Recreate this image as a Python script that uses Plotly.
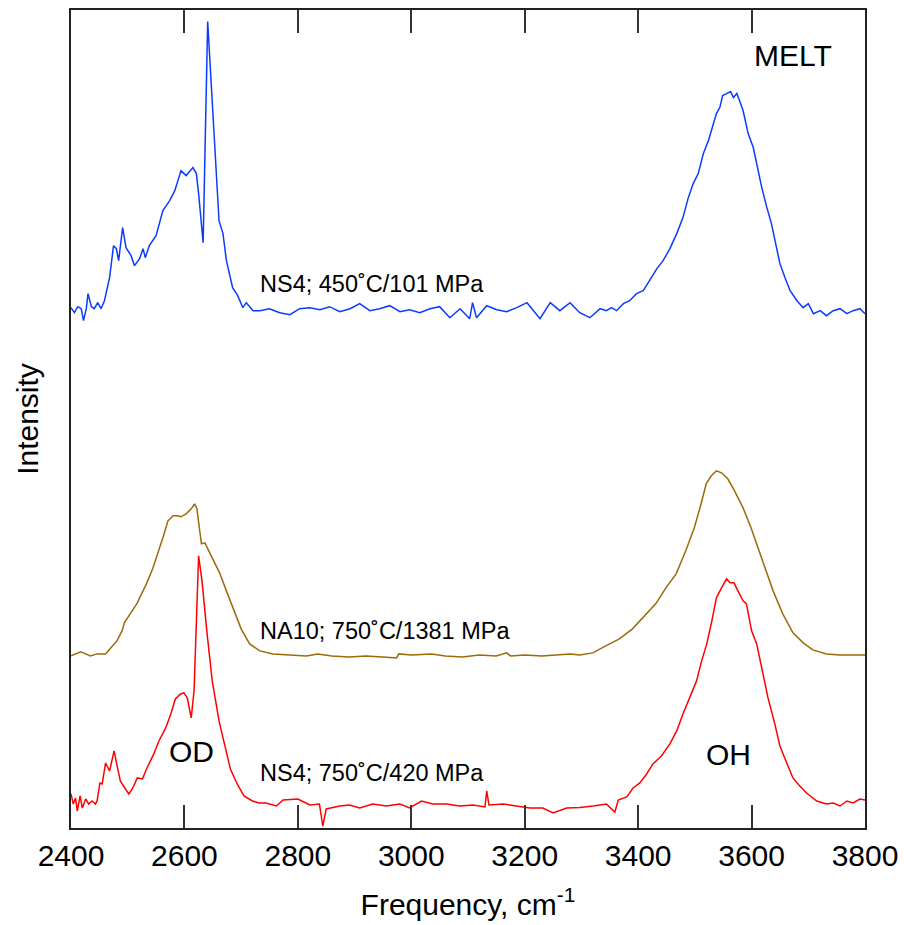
import plotly.graph_objects as go

# ---------------- data (frequency in cm^-1, intensity in arbitrary units) ----------------
blue_freq = [2400, 2406, 2412, 2418, 2422, 2427, 2430, 2436, 2441, 2447, 2453, 2459, 2468, 2475,
             2480, 2484, 2491, 2497, 2506, 2512, 2521, 2527, 2531, 2538, 2550, 2562, 2574, 2583,
             2594, 2603, 2615, 2621, 2625, 2633, 2641, 2649, 2656, 2661, 2668, 2674, 2685, 2694,
             2703, 2709, 2721, 2733, 2750, 2768, 2786, 2803, 2821, 2839, 2856, 2874, 2892, 2909,
             2927, 2944, 2962, 2980, 2997, 3015, 3033, 3050, 3068, 3086, 3103, 3108, 3115, 3133,
             3151, 3168, 3186, 3204, 3227, 3245, 3262, 3280, 3297, 3315, 3333, 3344, 3353, 3362,
             3374, 3385, 3397, 3409, 3420, 3433, 3444, 3456, 3468, 3479, 3488, 3497, 3506, 3515,
             3524, 3530, 3538, 3544, 3549, 3556, 3563, 3568, 3574, 3580, 3585, 3594, 3603, 3609,
             3618, 3627, 3635, 3644, 3650, 3659, 3668, 3680, 3691, 3700, 3709, 3721, 3732, 3744,
             3756, 3768, 3779, 3791, 3800]
blue_int = [52.0, 51.5, 52.1, 51.9, 50.7, 51.9, 53.4, 52.1, 51.9, 52.5, 51.9, 52.7, 55.0, 58.2,
            57.9, 56.7, 60.0, 58.0, 57.2, 56.2, 56.9, 57.9, 57.0, 58.2, 59.2, 61.7, 62.7, 63.7,
            65.7, 65.2, 66.0, 65.4, 63.4, 58.5, 80.6, 72.7, 65.4, 60.7, 59.4, 56.7, 54.0, 53.2,
            52.0, 52.5, 51.7, 51.7, 51.9, 51.5, 51.3, 51.9, 52.0, 51.8, 52.1, 51.6, 51.9, 52.4,
            51.7, 51.9, 52.2, 51.6, 51.8, 51.5, 51.9, 52.1, 51.0, 51.9, 50.9, 52.5, 51.0, 52.2,
            51.8, 51.6, 52.0, 52.5, 50.9, 52.5, 51.7, 52.5, 51.5, 51.0, 51.9, 51.7, 52.0, 51.7,
            52.4, 52.7, 53.4, 53.7, 54.7, 55.9, 56.7, 57.9, 59.4, 61.0, 62.9, 64.4, 65.4, 67.4,
            68.7, 69.9, 71.4, 72.0, 73.2, 73.4, 73.6, 73.0, 73.4, 72.5, 71.7, 69.4, 68.0, 66.4,
            64.0, 62.0, 60.4, 58.0, 56.4, 55.0, 53.7, 52.7, 52.0, 52.4, 51.4, 51.7, 51.2, 51.7,
            51.9, 51.4, 51.7, 51.9, 51.4]

brown_freq = [2400, 2408, 2417, 2426, 2434, 2446, 2461, 2470, 2481, 2490, 2494, 2502, 2517, 2521,
              2533, 2544, 2553, 2562, 2571, 2580, 2588, 2594, 2603, 2612, 2618, 2622, 2627, 2630,
              2636, 2647, 2662, 2674, 2688, 2700, 2715, 2733, 2756, 2786, 2815, 2835, 2860, 2890,
              2920, 2950, 2974, 2978, 3000, 3036, 3060, 3090, 3120, 3150, 3168, 3175, 3200, 3230,
              3260, 3280, 3297, 3320, 3343, 3367, 3390, 3414, 3431, 3449, 3467, 3484, 3499, 3511,
              3520, 3529, 3538, 3547, 3558, 3570, 3585, 3599, 3611, 3623, 3638, 3655, 3673, 3691,
              3708, 3732, 3756, 3779, 3800]
brown_int = [17.2, 17.4, 17.6, 17.4, 17.2, 17.4, 17.4, 18.0, 18.7, 19.7, 20.5, 21.2, 22.5, 23.0,
             24.4, 25.9, 27.4, 29.0, 30.7, 31.2, 31.2, 31.1, 31.4, 31.9, 32.4, 31.9, 29.7, 28.4,
             28.5, 27.2, 25.5, 23.7, 21.7, 19.9, 18.4, 17.7, 17.4, 17.3, 17.2, 17.4, 17.2, 17.1,
             17.2, 17.1, 17.0, 17.4, 17.3, 17.4, 17.2, 17.1, 17.3, 17.2, 17.5, 17.2, 17.3, 17.2,
             17.3, 17.4, 17.3, 17.5, 18.2, 18.9, 19.9, 21.4, 22.4, 24.0, 25.4, 27.7, 30.0, 32.4,
             34.4, 35.2, 35.7, 35.5, 34.9, 33.7, 32.0, 30.0, 28.0, 26.0, 23.7, 21.4, 19.5, 18.5,
             17.8, 17.4, 17.3, 17.3, 17.3]

red_freq = [2400, 2404, 2408, 2411, 2416, 2420, 2426, 2431, 2437, 2443, 2446, 2451, 2455, 2461,
            2468, 2476, 2482, 2487, 2496, 2502, 2508, 2517, 2526, 2534, 2546, 2555, 2567, 2576,
            2584, 2593, 2599, 2605, 2612, 2617, 2625, 2631, 2640, 2649, 2661, 2673, 2681, 2693,
            2705, 2720, 2731, 2744, 2762, 2774, 2800, 2821, 2838, 2844, 2850, 2874, 2891, 2909,
            2932, 2956, 2980, 2997, 3018, 3038, 3062, 3085, 3109, 3130, 3133, 3137, 3162, 3185,
            3209, 3232, 3250, 3274, 3297, 3321, 3344, 3359, 3365, 3380, 3391, 3403, 3415, 3426,
            3441, 3456, 3468, 3479, 3491, 3503, 3512, 3521, 3530, 3538, 3547, 3556, 3562, 3569,
            3576, 3585, 3591, 3600, 3609, 3618, 3629, 3641, 3650, 3662, 3673, 3685, 3697, 3715,
            3732, 3744, 3756, 3768, 3779, 3791, 3800]
red_int = [3.4, 2.4, 3.0, 1.7, 3.2, 2.0, 2.9, 2.4, 2.7, 2.4, 2.7, 4.5, 4.4, 6.5,
           5.7, 7.7, 6.0, 4.7, 3.9, 3.4, 3.9, 5.0, 4.9, 6.0, 7.4, 8.7, 10.0, 11.4,
           12.9, 13.4, 13.5, 13.0, 11.0, 13.7, 27.2, 24.7, 19.4, 14.7, 10.7, 7.7, 5.9, 4.4,
           3.2, 2.7, 2.5, 2.5, 2.2, 2.8, 2.9, 2.3, 2.4, 0.2, 1.9, 2.2, 2.3, 2.0,
           2.4, 2.2, 2.4, 2.0, 2.7, 2.4, 2.4, 2.2, 2.3, 2.1, 3.7, 2.3, 2.4, 2.2,
           2.0, 2.0, 1.5, 2.0, 2.05, 2.2, 2.4, 1.6, 2.8, 3.1, 4.0, 4.5, 5.4, 6.4,
           7.2, 8.4, 9.7, 11.4, 13.0, 14.7, 16.7, 18.4, 20.7, 23.0, 24.0, 24.9, 24.5, 24.5,
           23.7, 22.7, 22.4, 19.7, 18.4, 16.0, 13.0, 10.4, 8.2, 6.5, 5.0, 4.2, 3.5, 2.7,
           2.4, 2.5, 2.2, 2.7, 2.5, 2.9, 2.8]

x_ticks = [2400, 2600, 2800, 3000, 3200, 3400, 3600, 3800]

FONT = "Arial, 'Liberation Sans', Helvetica, sans-serif"

fig = go.Figure()
fig.add_trace(go.Scatter(x=blue_freq, y=blue_int, mode="lines", name="NS4; 450˚C/101 MPa",
                         line=dict(color="#0a3cff", width=1.5)))
fig.add_trace(go.Scatter(x=brown_freq, y=brown_int, mode="lines", name="NA10; 750˚C/1381 MPa",
                         line=dict(color="#9c6a08", width=1.5)))
fig.add_trace(go.Scatter(x=red_freq, y=red_int, mode="lines", name="NS4; 750˚C/420 MPa",
                         line=dict(color="#ff0000", width=1.5)))

labels = [
    dict(x=2729, y=54.4, text="NS4; 450˚C/101 MPa", xanchor="left", size=23.5),
    dict(x=2729, y=19.7, text="NA10; 750˚C/1381 MPa", xanchor="left", size=23.5),
    dict(x=2729, y=5.5, text="NS4; 750˚C/420 MPa", xanchor="left", size=23.5),
    dict(x=3673, y=77.2, text="MELT", xanchor="center", size=30),
    dict(x=2613, y=7.6, text="OD", xanchor="center", size=30),
    dict(x=3560, y=7.3, text="OH", xanchor="center", size=30),
]
for a in labels:
    fig.add_annotation(x=a["x"], y=a["y"], text=a["text"], xanchor=a["xanchor"], yanchor="middle",
                       showarrow=False, font=dict(family=FONT, size=a["size"], color="black"))

fig.update_layout(
    width=904, height=925,
    margin=dict(l=71, r=39, t=10, b=97, autoexpand=False),
    plot_bgcolor="white", paper_bgcolor="white",
    showlegend=False,
    font=dict(family=FONT, color="black"),
    xaxis=dict(range=[2400, 3800], tickvals=x_ticks, ticks="inside", ticklen=23, tickwidth=1.5,
               tickcolor="#333333", showline=True, linecolor="#222222", linewidth=1.5,
               mirror="ticks", showgrid=False, zeroline=False, automargin=False,
               ticklabeloverflow="allow",
               tickfont=dict(size=30, family=FONT, color="black"),
               title=dict(text="Frequency, cm<sup>-1</sup>", font=dict(size=30, family=FONT), standoff=23)),
    yaxis=dict(range=[0, 81.75], showticklabels=False, ticks="", showline=True, linecolor="#222222",
               linewidth=1.5, mirror=True, showgrid=False, zeroline=False, automargin=False,
               title=dict(text="Intensity", font=dict(size=30, family=FONT), standoff=22)),
)

fig.write_html("out.html")
